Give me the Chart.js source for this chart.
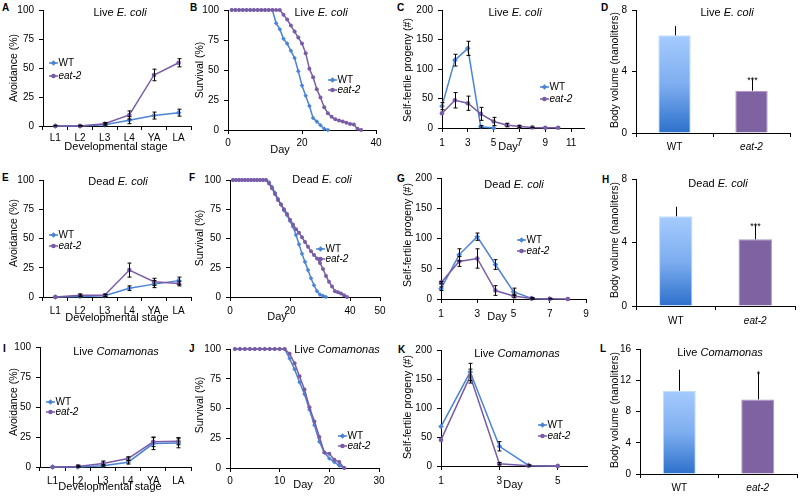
<!DOCTYPE html>
<html>
<head>
<meta charset="utf-8">
<script src="https://cdn.jsdelivr.net/npm/chart.js@4.4.0/dist/chart.umd.min.js"></script>
<style>
  body { margin: 0; background: #fff; width: 800px; height: 496px; position: relative; overflow: hidden; font-family: "Liberation Sans", Arial, sans-serif; }
  canvas { position: absolute; }
  .tag { position: absolute; font-weight: bold; font-size: 10px; line-height: 10px; }
</style>
</head>
<body>
<div class="tag" style="left:2px;top:3px">A</div>
<div class="tag" style="left:190px;top:3px">B</div>
<div class="tag" style="left:397px;top:3px">C</div>
<div class="tag" style="left:601px;top:3px">D</div>
<div class="tag" style="left:2px;top:173px">E</div>
<div class="tag" style="left:189px;top:173px">F</div>
<div class="tag" style="left:397px;top:174px">G</div>
<div class="tag" style="left:602px;top:175px">H</div>
<div class="tag" style="left:3px;top:344px">I</div>
<div class="tag" style="left:189px;top:344px">J</div>
<div class="tag" style="left:398px;top:345px">K</div>
<div class="tag" style="left:600px;top:344px">L</div>
<script>
// ---- data ----
const stages = ['L1', 'L2', 'L3', 'L4', 'YA', 'LA'];
const groups = ['WT', 'eat-2'];

// A: avoidance, live E. coli
const avoidLiveWt = [0, 0, 1, 5, 9, 11.5];
const avoidLiveWtErr = [0.5, 0.5, 1, 3, 3, 3];
const avoidLiveEat = [0, 0, 2, 9.5, 44, 54.5];
const avoidLiveEatErr = [0, 0.5, 1, 3.5, 5, 3.5];

// B: survival, live E. coli
const daysLive = [1, 2, 3, 4, 5, 6, 7, 8, 9, 10, 11, 12, 13, 14, 15, 16, 17, 18, 19, 20, 21, 22, 23, 24, 25, 26, 27, 28, 29, 30, 31, 32, 33, 34, 35, 36];
const survLiveWt = [100, 100, 100, 100, 100, 100, 100, 100, 100, 100, 100, 100, 89, 84, 76, 72, 66, 60, 49, 37, 28.5, 20, 10, 7, 4, 1, 0];
const survLiveEat = [100, 100, 100, 100, 100, 100, 100, 100, 100, 100, 100, 100, 100, 100, 96, 92, 87, 82, 77, 72, 64, 51, 44, 34, 27, 19, 14, 11, 9, 8, 7, 6, 5, 4.5, 1, 0];

// C: brood, live E. coli
const broodDaysLive = [1, 2, 3, 4, 5, 6, 7, 8, 9, 10];
const broodTicksLive = [1, 3, 5, 7, 9, 11];
const broodLiveWt = [37, 115, 135, 2, 0];
const broodLiveWtErr = [6, 10, 12, 2, 0];
const broodLiveEat = [25, 47, 42, 24, 11, 5, 2.5, 1, 0.5, 0.5];
const broodLiveEatErr = [0, 13, 12, 11, 7, 3, 1.5, 0.5, 0, 0];

// D: body volume, live E. coli
const volLive = [6.35, 2.75];
const volLiveErr = [0.6, 0.75];
const volLiveStars = ['', '***'];

// E: avoidance, dead E. coli
const avoidDeadWt = [0, 0.5, 1, 7.5, 11, 14];
const avoidDeadWtErr = [0, 0.5, 1, 2, 3, 3];
const avoidDeadEat = [0, 1.5, 1.5, 23, 13, 11.5];
const avoidDeadEatErr = [0, 1, 1, 6, 3, 2];

// F: survival, dead E. coli
const daysDead = [1, 2, 3, 4, 5, 6, 7, 8, 9, 10, 11, 12, 13, 14, 15, 16, 17, 18, 19, 20, 21, 22, 23, 24, 25, 26, 27, 28, 29, 30, 31, 32, 33, 34, 35, 36, 37, 38, 39];
const survDeadWt = [100, 100, 100, 100, 100, 100, 100, 100, 100, 100, 100, 100, 98, 94, 89, 84, 79, 74, 70, 65, 60, 53, 45, 37, 30, 23, 16, 10, 5, 2, 1, 0];
const survDeadEat = [100, 100, 100, 100, 100, 100, 100, 100, 100, 100, 100, 100, 97, 93, 88, 83, 79, 75, 71, 66, 62, 58, 55, 51, 47, 43, 39, 36, 33, 29, 24, 18, 13, 9, 5, 4, 3, 1.5, 0];

// G: brood, dead E. coli
const broodDaysDead = [1, 2, 3, 4, 5, 6, 7, 8];
const broodTicksDead = [1, 3, 5, 7, 9];
const broodDeadWt = [17, 73, 103, 57, 12, 1, 0];
const broodDeadWtErr = [3, 10, 6, 8, 6, 1, 0];
const broodDeadEat = [27, 62, 67, 14, 5, 1, 0.5, 0];
const broodDeadEatErr = [2, 8, 16, 8, 3, 1, 0.5, 0];

// H: body volume, dead E. coli
const volDead = [5.65, 4.2];
const volDeadErr = [0.6, 0.9];
const volDeadStars = ['', '***'];

// I: avoidance, live Comamonas
const avoidComaWt = [0, 0, 1, 4, 19.5, 20];
const avoidComaWtErr = [0, 0.5, 1, 1.5, 5, 4];
const avoidComaEat = [0, 0.5, 3, 7, 21, 21.5];
const avoidComaEatErr = [0, 1, 2, 1.5, 4, 3];

// J: survival, live Comamonas
const daysComa = [1, 2, 3, 4, 5, 6, 7, 8, 9, 10, 11, 12, 13, 14, 15, 16, 17, 18, 19, 20, 21, 22, 23];
const survComaWt = [100, 100, 100, 100, 100, 100, 100, 100, 100, 100, 100, 92, 83, 72, 62, 49, 36, 22, 13, 8, 5, 2, 0];
const survComaEat = [100, 100, 100, 100, 100, 100, 100, 100, 100, 100, 100, 96, 88, 77, 66, 51, 39, 26, 13, 12, 7, 5, 0];

// K: brood, live Comamonas
const broodDaysComa = [1, 2, 3, 4, 5];
const broodTicksComa = [1, 3, 5];
const broodComaWt = [68, 162, 34, 1, 0];
const broodComaWtErr = [0, 15, 8, 1, 0];
const broodComaEat = [45, 155, 4, 0.5, 0];
const broodComaEatErr = [0, 12, 2, 0, 0];

// L: body volume, live Comamonas
const volComa = [10.65, 9.55];
const volComaErr = [2.7, 3.4];
const volComaStars = ['', '*'];

// ---- styling ----
const FONT = "'Liberation Sans', Arial, sans-serif";
const WT_COLOR = '#4a84d4';
const EAT_COLOR = '#7a5ca6';
const Y_BOX = 35;   // room kept for y tick labels
const X_BOX = 20;   // room kept for x tick labels
const liveEcoli = [['Live ', false], ['E. coli', true]];
const deadEcoli = [['Dead ', false], ['E. coli', true]];
const liveComa = [['Live ', false], ['Comamonas', true]];

Chart.defaults.font.family = FONT;
Chart.defaults.font.size = 10;
Chart.defaults.color = '#000';

function drawParts(ctx, parts, cx, cy, size) {
  let w = 0;
  parts.forEach(([t, it]) => { ctx.font = (it ? 'italic ' : '') + size + 'px ' + FONT; w += ctx.measureText(t).width; });
  let x = cx - w / 2;
  ctx.textAlign = 'left';
  ctx.textBaseline = 'middle';
  parts.forEach(([t, it]) => {
    ctx.font = (it ? 'italic ' : '') + size + 'px ' + FONT;
    ctx.fillText(t, x, cy);
    x += ctx.measureText(t).width;
  });
}

function marker(ctx, style, x, y, r, color) {
  ctx.fillStyle = color;
  ctx.beginPath();
  if (style === 'circle') {
    ctx.arc(x, y, r, 0, Math.PI * 2);
  } else {
    ctx.moveTo(x, y - r); ctx.lineTo(x + r, y); ctx.lineTo(x, y + r); ctx.lineTo(x - r, y); ctx.closePath();
  }
  ctx.fill();
}

function lineSet(label, data, errors, radius) {
  const wt = label === 'WT';
  return {
    label, data, errors,
    borderColor: wt ? WT_COLOR : EAT_COLOR,
    backgroundColor: wt ? WT_COLOR : EAT_COLOR,
    pointStyle: wt ? 'rectRot' : 'circle',
    pointRadius: wt ? radius + 0.5 : radius,
    pointBorderWidth: 0,
    borderWidth: 1.5,
    clip: false,
    order: wt ? 2 : 1
  };
}

function makePanel(p) {
  const [cl, ct, cr, cb] = p.cell;
  const [al, at, ar, ab] = p.area;
  const cv = document.createElement('canvas');
  cv.width = cr - cl;
  cv.height = cb - ct;
  cv.style.left = cl + 'px';
  cv.style.top = ct + 'px';
  document.body.appendChild(cv);

  // fixed axis boxes, so the padding puts the plot area where it belongs
  const fit = s => {
    if (s.isHorizontal()) s.height = X_BOX; else s.width = Y_BOX;
    s.paddingLeft = s.paddingRight = s.paddingTop = s.paddingBottom = 0;
  };
  const grid = { drawOnChartArea: false, tickLength: 4, color: '#000', lineWidth: 1 };
  const border = { color: '#000', width: 1 };

  const xScale = Object.assign({
    afterFit: fit,
    grid: Object.assign({}, grid, { offset: !!p.gridOffset }),
    border,
    ticks: { padding: p.xPad, color: '#000', autoSkip: false, maxRotation: 0, font: p.xFont || { size: 10 } }
  }, p.x);
  if (p.xTicks) xScale.afterBuildTicks = s => { s.ticks = p.xTicks.map(v => ({ value: v })); };

  const decor = {
    id: 'decor',
    afterDatasetsDraw(chart) {
      const ctx = chart.ctx, ys = chart.scales.y;
      ctx.save();
      ctx.strokeStyle = '#000';
      ctx.lineWidth = 1;
      chart.data.datasets.forEach((ds, di) => {
        if (!ds.errors) return;
        chart.getDatasetMeta(di).data.forEach((el, i) => {
          const e = ds.errors[i];
          const v = ds.data[i];
          const xp = Math.round(el.x) + 0.5;
          const top = ys.getPixelForValue(v + (e || 0));
          if (e) {
            const bot = ds.upOnly ? ys.getPixelForValue(v) : ys.getPixelForValue(Math.max(v - e, 0));
            ctx.beginPath();
            ctx.moveTo(xp, top); ctx.lineTo(xp, bot);
            if (!ds.upOnly) {
              ctx.moveTo(xp - 2, top); ctx.lineTo(xp + 2, top);
              ctx.moveTo(xp - 2, bot); ctx.lineTo(xp + 2, bot);
            }
            ctx.stroke();
          }
          if (ds.stars && ds.stars[i]) {
            ctx.fillStyle = '#000';
            ctx.font = '9px ' + FONT;
            ctx.textAlign = 'center';
            ctx.textBaseline = 'alphabetic';
            ctx.fillText(ds.stars[i], xp, top + 4);
          }
        });
      });
      ctx.restore();
    },
    afterDraw(chart) {
      const ctx = chart.ctx;
      ctx.save();
      ctx.fillStyle = '#000';
      drawParts(ctx, p.title, p.titlePos[0] - cl, p.titlePos[1] - ct, 11);
      if (p.xTitle) {
        ctx.font = '11px ' + FONT;
        ctx.textAlign = 'center';
        ctx.textBaseline = 'middle';
        ctx.fillText(p.xTitle, p.xTitlePos[0] - cl, p.xTitlePos[1] - ct);
      }
      ctx.save();
      ctx.translate(p.yTitlePos[0] - cl, p.yTitlePos[1] - ct);
      ctx.rotate(-Math.PI / 2);
      ctx.font = '10.5px ' + FONT;
      ctx.textAlign = 'center';
      ctx.textBaseline = 'middle';
      ctx.fillText(p.yTitle, 0, 0);
      ctx.restore();
      if (p.legend) {
        const [lx, y1, y2] = p.legend;
        [[y1, 'WT', WT_COLOR, 'rectRot', false], [y2, 'eat-2', EAT_COLOR, 'circle', true]].forEach(([ly, txt, col, st, it]) => {
          const x0 = lx - cl, y0 = ly - ct;
          ctx.strokeStyle = col;
          ctx.lineWidth = 1.5;
          ctx.beginPath(); ctx.moveTo(x0, y0); ctx.lineTo(x0 + 9, y0); ctx.stroke();
          marker(ctx, st, x0 + 4.5, y0, st === 'circle' ? 2.3 : 2.8, col);
          ctx.fillStyle = '#000';
          ctx.font = (it ? 'italic ' : '') + '10px ' + FONT;
          ctx.textAlign = 'left';
          ctx.textBaseline = 'middle';
          ctx.fillText(txt, x0 + 9.5, y0 + 0.5);
        });
      }
      ctx.restore();
    }
  };

  new Chart(cv, {
    type: p.type,
    data: { labels: p.labels, datasets: p.datasets },
    options: {
      responsive: false,
      animation: false,
      devicePixelRatio: 1,
      layout: { padding: { left: al - cl - Y_BOX, top: at - ct, right: cr - ar, bottom: cb - ab - X_BOX } },
      plugins: { legend: { display: false }, tooltip: { enabled: false } },
      scales: {
        x: xScale,
        y: {
          afterFit: fit,
          min: 0, max: p.yMax,
          grid, border,
          ticks: { stepSize: p.yStep, padding: 5, color: '#000', font: { size: 10 } }
        }
      }
    },
    plugins: [decor]
  });
}

function avoidPanel(p, wt, wtErr, eat, eatErr) {
  makePanel(Object.assign({
    type: 'line', labels: stages, gridOffset: true,
    x: { type: 'category', offset: true },
    yMax: 100, yStep: 25, yTitle: 'Avoidance (%)', xTitle: 'Developmental stage',
    datasets: [lineSet('WT', wt, wtErr, 2.3), lineSet('eat-2', eat, eatErr, 2.3)]
  }, p));
}

function survPanel(p, days, wt, eat, xMax) {
  makePanel(Object.assign({
    type: 'line', labels: days,
    x: { type: 'linear', min: 0, max: xMax },
    yMax: 100, yStep: 25, yTitle: 'Survival (%)', xTitle: 'Day',
    datasets: [lineSet('WT', wt, null, 1.8), lineSet('eat-2', eat, null, 2)]
  }, p));
}

function broodPanel(p, days, ticks, wt, wtErr, eat, eatErr, xMax) {
  makePanel(Object.assign({
    type: 'line', labels: days, xTicks: ticks,
    x: { type: 'linear', min: 1, max: xMax },
    yMax: 200, yStep: 50, yTitle: 'Self-fertile progeny (#)', xTitle: 'Day',
    datasets: [lineSet('WT', wt, wtErr, 2.3), lineSet('eat-2', eat, eatErr, 2.3)]
  }, p));
}

function volPanel(p, vals, errs, stars, yMax) {
  makePanel(Object.assign({
    type: 'bar', labels: groups, gridOffset: true,
    x: { type: 'category', offset: true },
    xFont: c => ({ size: 10, style: c.index === 1 ? 'italic' : 'normal' }),
    yMax, yStep: 4, yTitle: 'Body volume (nanoliters)',
    datasets: [{
      data: vals, errors: errs, upOnly: true, stars,
      categoryPercentage: 1, barPercentage: 0.42,
      borderWidth: 1,
      borderColor: ['#c2dbfb', '#a995c6'],
      backgroundColor: c => {
        if (c.dataIndex === 1) return '#7f62a1';
        const a = c.chart.chartArea;
        const ys = c.chart.scales.y;
        if (!a || !ys) return '#6aa0e6';
        const top = ys.getPixelForValue(c.raw);
        if (!isFinite(top)) return '#6aa0e6';
        const g = c.chart.ctx.createLinearGradient(0, top, 0, a.bottom);
        g.addColorStop(0, '#a5cbfd');
        g.addColorStop(0.5, '#7eaef0');
        g.addColorStop(1, '#2c70cb');
        return g;
      }
    }]
  }, p));
}

// row 1
avoidPanel({ cell: [0, 0, 200, 160], area: [43, 10, 191, 126], title: liveEcoli, titlePos: [120, 13],
  yTitlePos: [14, 68], xTitlePos: [116, 147], legend: [49, 63, 76], xPad: 2 },
  avoidLiveWt, avoidLiveWtErr, avoidLiveEat, avoidLiveEatErr);
survPanel({ cell: [186, 0, 395, 160], area: [228, 10, 376, 130], title: liveEcoli, titlePos: [321, 13],
  yTitlePos: [200, 70], xTitlePos: [280, 150], legend: [328, 80, 90], xPad: 3 },
  daysLive, survLiveWt, survLiveEat, 40);
broodPanel({ cell: [395, 0, 598, 160], area: [442, 10, 584, 128], title: liveEcoli, titlePos: [515, 13],
  yTitlePos: [408, 70], xTitlePos: [508, 147], legend: [540, 87, 99], xPad: 5 },
  broodDaysLive, broodTicksLive, broodLiveWt, broodLiveWtErr, broodLiveEat, broodLiveEatErr, 12);
volPanel({ cell: [598, 0, 800, 160], area: [636, 10, 790, 133], title: liveEcoli, titlePos: [727, 13],
  yTitlePos: [615, 70], xPad: 4 },
  volLive, volLiveErr, volLiveStars, 8);

// row 2
avoidPanel({ cell: [0, 160, 200, 330], area: [43, 180, 191, 297], title: deadEcoli, titlePos: [118, 182],
  yTitlePos: [14, 233], xTitlePos: [117, 318], legend: [49, 235, 246], xPad: 4 },
  avoidDeadWt, avoidDeadWtErr, avoidDeadEat, avoidDeadEatErr);
survPanel({ cell: [186, 160, 395, 330], area: [230, 180, 380, 297], title: deadEcoli, titlePos: [322, 180],
  yTitlePos: [200, 238], xTitlePos: [277, 317], legend: [316, 249, 259], xPad: 4 },
  daysDead, survDeadWt, survDeadEat, 50);
broodPanel({ cell: [395, 160, 598, 330], area: [441, 178, 586, 299], title: deadEcoli, titlePos: [514, 185],
  yTitlePos: [408, 235], xTitlePos: [497, 317], legend: [517, 240, 251], xPad: 5 },
  broodDaysDead, broodTicksDead, broodDeadWt, broodDeadWtErr, broodDeadEat, broodDeadEatErr, 9);
volPanel({ cell: [598, 160, 800, 330], area: [636, 179, 795, 306], title: deadEcoli, titlePos: [718, 184],
  yTitlePos: [615, 240], xPad: 5 },
  volDead, volDeadErr, volDeadStars, 8);

// row 3
avoidPanel({ cell: [0, 330, 200, 496], area: [40, 347, 191, 467], title: liveComa, titlePos: [116, 352],
  yTitlePos: [14, 402], xTitlePos: [110, 487], legend: [46, 402, 412], xPad: 4 },
  avoidComaWt, avoidComaWtErr, avoidComaEat, avoidComaEatErr);
survPanel({ cell: [186, 330, 395, 496], area: [230, 349, 379, 468], title: liveComa, titlePos: [337, 350],
  yTitlePos: [200, 405], xTitlePos: [303, 485], legend: [338, 436, 446], xPad: 3 },
  daysComa, survComaWt, survComaEat, 30);
broodPanel({ cell: [395, 330, 598, 496], area: [441, 350, 587, 466], title: liveComa, titlePos: [517, 354],
  yTitlePos: [408, 407], xTitlePos: [513, 485], legend: [538, 425, 436], xPad: 5 },
  broodDaysComa, broodTicksComa, broodComaWt, broodComaWtErr, broodComaEat, broodComaEatErr, 6);
volPanel({ cell: [598, 330, 800, 496], area: [640, 349, 797, 474], title: liveComa, titlePos: [720, 353],
  yTitlePos: [615, 410], xPad: 4 },
  volComa, volComaErr, volComaStars, 16);
</script>
</body>
</html>
